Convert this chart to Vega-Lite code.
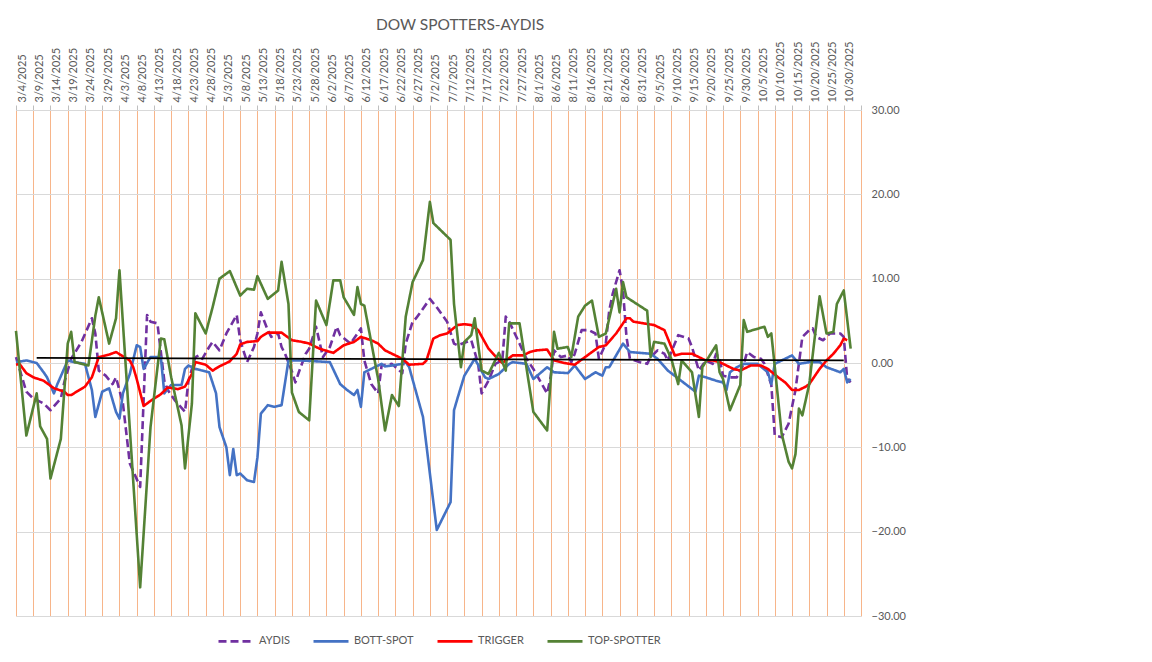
{
"$schema": "https://vega.github.io/schema/vega-lite/v6.json",
"width": 845, "height": 506,
"autosize": {"type": "none"},
"padding": {"left": 16, "top": 110, "right": 291, "bottom": 46},
"title": {"text": "DOW SPOTTERS-AYDIS", "fontSize": 15.5, "fontWeight": "normal", "color": "#595959", "offset": 8, "anchor": "middle", "frame": "bounds"},
"config": {"font": "Lato", "view": {"stroke": null}, "legend": {"layout": {"bottom": {"anchor": "middle", "bounds": "full"}}}},
"encoding": {
  "x": {"field": "date", "type": "temporal",
    "scale": {"type": "utc", "domain": [{"year": 2025, "month": 3, "date": 4, "utc": true}, {"year": 2025, "month": 11, "date": 4, "utc": true}]},
    "axis": {"orient": "top", "title": null, "format": "%-m/%-d/%Y", "labelExpr": "utcmonth(datum.value) == 10 ? '' : datum.label",
      "labelAngle": -90, "labelAlign": "left", "labelBaseline": "top", "labelPadding": 3, "labelOverlap": false, "labelFlush": false, "labelBound": false,
      "labelFontSize": 11, "labelColor": "#595959", "grid": true, "gridColor": "#F7B58A", "gridWidth": 1,
      "domain": true, "domainColor": "#D9D9D9", "ticks": true, "tickSize": 5, "tickColor": "#BFBFBF",
      "values": [
        {"year":2025,"month":3,"date":4,"utc":true},{"year":2025,"month":3,"date":9,"utc":true},{"year":2025,"month":3,"date":14,"utc":true},{"year":2025,"month":3,"date":19,"utc":true},{"year":2025,"month":3,"date":24,"utc":true},{"year":2025,"month":3,"date":29,"utc":true},
        {"year":2025,"month":4,"date":3,"utc":true},{"year":2025,"month":4,"date":8,"utc":true},{"year":2025,"month":4,"date":13,"utc":true},{"year":2025,"month":4,"date":18,"utc":true},{"year":2025,"month":4,"date":23,"utc":true},{"year":2025,"month":4,"date":28,"utc":true},
        {"year":2025,"month":5,"date":3,"utc":true},{"year":2025,"month":5,"date":8,"utc":true},{"year":2025,"month":5,"date":13,"utc":true},{"year":2025,"month":5,"date":18,"utc":true},{"year":2025,"month":5,"date":23,"utc":true},{"year":2025,"month":5,"date":28,"utc":true},
        {"year":2025,"month":6,"date":2,"utc":true},{"year":2025,"month":6,"date":7,"utc":true},{"year":2025,"month":6,"date":12,"utc":true},{"year":2025,"month":6,"date":17,"utc":true},{"year":2025,"month":6,"date":22,"utc":true},{"year":2025,"month":6,"date":27,"utc":true},
        {"year":2025,"month":7,"date":2,"utc":true},{"year":2025,"month":7,"date":7,"utc":true},{"year":2025,"month":7,"date":12,"utc":true},{"year":2025,"month":7,"date":17,"utc":true},{"year":2025,"month":7,"date":22,"utc":true},{"year":2025,"month":7,"date":27,"utc":true},
        {"year":2025,"month":8,"date":1,"utc":true},{"year":2025,"month":8,"date":6,"utc":true},{"year":2025,"month":8,"date":11,"utc":true},{"year":2025,"month":8,"date":16,"utc":true},{"year":2025,"month":8,"date":21,"utc":true},{"year":2025,"month":8,"date":26,"utc":true},{"year":2025,"month":8,"date":31,"utc":true},
        {"year":2025,"month":9,"date":5,"utc":true},{"year":2025,"month":9,"date":10,"utc":true},{"year":2025,"month":9,"date":15,"utc":true},{"year":2025,"month":9,"date":20,"utc":true},{"year":2025,"month":9,"date":25,"utc":true},{"year":2025,"month":9,"date":30,"utc":true},
        {"year":2025,"month":10,"date":5,"utc":true},{"year":2025,"month":10,"date":10,"utc":true},{"year":2025,"month":10,"date":15,"utc":true},{"year":2025,"month":10,"date":20,"utc":true},{"year":2025,"month":10,"date":25,"utc":true},{"year":2025,"month":10,"date":30,"utc":true},
        {"year":2025,"month":11,"date":4,"utc":true}
      ]}},
  "y": {"field": "value", "type": "quantitative",
    "scale": {"domain": [-30, 30], "nice": false, "zero": false},
    "axis": {"orient": "right", "title": null, "values": [-30,-20,-10,0,10,20,30], "format": ".2f", "grid": true, "gridColor": "#D9D9D9", "gridWidth": 1,
      "domain": false, "ticks": false, "labelPadding": 10, "labelFontSize": 11, "labelColor": "#595959"}}
},
"layer": [
{
"data": {"values": [
{"date":"2025-03-04","series":"AYDIS","value":0.7},{"date":"2025-03-07","series":"AYDIS","value":-3.4},{"date":"2025-03-09","series":"AYDIS","value":-4.2},{"date":"2025-03-12","series":"AYDIS","value":-4.8},{"date":"2025-03-14","series":"AYDIS","value":-5.6},{"date":"2025-03-17","series":"AYDIS","value":-4.2},{"date":"2025-03-18","series":"AYDIS","value":-2.3},{"date":"2025-03-20","series":"AYDIS","value":0.5},{"date":"2025-03-23","series":"AYDIS","value":2.5},{"date":"2025-03-26","series":"AYDIS","value":5.3},{"date":"2025-03-27","series":"AYDIS","value":3.5},{"date":"2025-03-28","series":"AYDIS","value":-0.9},{"date":"2025-03-30","series":"AYDIS","value":-1.5},
{"date":"2025-04-01","series":"AYDIS","value":-2.5},{"date":"2025-04-02","series":"AYDIS","value":-1.7},{"date":"2025-04-04","series":"AYDIS","value":-4.8},{"date":"2025-04-06","series":"AYDIS","value":-11.9},{"date":"2025-04-09","series":"AYDIS","value":-14.7},{"date":"2025-04-10","series":"AYDIS","value":-4.4},{"date":"2025-04-11","series":"AYDIS","value":5.7},{"date":"2025-04-12","series":"AYDIS","value":4.9},{"date":"2025-04-14","series":"AYDIS","value":4.7},{"date":"2025-04-16","series":"AYDIS","value":-2.1},{"date":"2025-04-17","series":"AYDIS","value":-3.2},{"date":"2025-04-19","series":"AYDIS","value":-4.4},{"date":"2025-04-22","series":"AYDIS","value":-5.8},{"date":"2025-04-23","series":"AYDIS","value":-2.1},{"date":"2025-04-25","series":"AYDIS","value":0.7},{"date":"2025-04-26","series":"AYDIS","value":0.9},{"date":"2025-04-27","series":"AYDIS","value":0.5},{"date":"2025-04-29","series":"AYDIS","value":1.9},{"date":"2025-04-30","series":"AYDIS","value":2.5},
{"date":"2025-05-02","series":"AYDIS","value":1.5},{"date":"2025-05-04","series":"AYDIS","value":3.5},{"date":"2025-05-07","series":"AYDIS","value":5.7},{"date":"2025-05-08","series":"AYDIS","value":2.7},{"date":"2025-05-10","series":"AYDIS","value":0.1},{"date":"2025-05-12","series":"AYDIS","value":1.9},{"date":"2025-05-13","series":"AYDIS","value":3.5},{"date":"2025-05-14","series":"AYDIS","value":6.0},{"date":"2025-05-16","series":"AYDIS","value":3.9},{"date":"2025-05-17","series":"AYDIS","value":3.1},{"date":"2025-05-19","series":"AYDIS","value":3.5},{"date":"2025-05-20","series":"AYDIS","value":1.9},{"date":"2025-05-21","series":"AYDIS","value":1.1},{"date":"2025-05-23","series":"AYDIS","value":-1.0},{"date":"2025-05-24","series":"AYDIS","value":-2.3},{"date":"2025-05-25","series":"AYDIS","value":-1.1},{"date":"2025-05-27","series":"AYDIS","value":1.1},{"date":"2025-05-28","series":"AYDIS","value":1.7},{"date":"2025-05-30","series":"AYDIS","value":4.3},{"date":"2025-05-31","series":"AYDIS","value":2.5},
{"date":"2025-06-01","series":"AYDIS","value":0.7},{"date":"2025-06-03","series":"AYDIS","value":1.9},{"date":"2025-06-05","series":"AYDIS","value":4.3},{"date":"2025-06-06","series":"AYDIS","value":3.3},{"date":"2025-06-09","series":"AYDIS","value":2.3},{"date":"2025-06-11","series":"AYDIS","value":3.5},{"date":"2025-06-12","series":"AYDIS","value":4.1},{"date":"2025-06-13","series":"AYDIS","value":0.3},{"date":"2025-06-15","series":"AYDIS","value":-2.5},{"date":"2025-06-17","series":"AYDIS","value":-3.6},{"date":"2025-06-18","series":"AYDIS","value":-0.3},{"date":"2025-06-21","series":"AYDIS","value":-0.1},{"date":"2025-06-24","series":"AYDIS","value":-1.2},{"date":"2025-06-25","series":"AYDIS","value":2.3},{"date":"2025-06-27","series":"AYDIS","value":4.9},{"date":"2025-06-28","series":"AYDIS","value":5.3},
{"date":"2025-07-02","series":"AYDIS","value":7.6},{"date":"2025-07-04","series":"AYDIS","value":6.6},{"date":"2025-07-07","series":"AYDIS","value":4.9},{"date":"2025-07-09","series":"AYDIS","value":2.3},{"date":"2025-07-10","series":"AYDIS","value":2.1},{"date":"2025-07-14","series":"AYDIS","value":2.7},{"date":"2025-07-16","series":"AYDIS","value":-0.1},{"date":"2025-07-17","series":"AYDIS","value":-3.6},{"date":"2025-07-19","series":"AYDIS","value":-2.1},{"date":"2025-07-21","series":"AYDIS","value":-0.1},{"date":"2025-07-23","series":"AYDIS","value":0.3},{"date":"2025-07-24","series":"AYDIS","value":5.5},{"date":"2025-07-25","series":"AYDIS","value":4.9},{"date":"2025-07-28","series":"AYDIS","value":2.3},{"date":"2025-07-30","series":"AYDIS","value":0.5},
{"date":"2025-08-01","series":"AYDIS","value":-0.7},{"date":"2025-08-05","series":"AYDIS","value":-3.6},{"date":"2025-08-06","series":"AYDIS","value":-1.7},{"date":"2025-08-07","series":"AYDIS","value":1.5},{"date":"2025-08-09","series":"AYDIS","value":0.7},{"date":"2025-08-11","series":"AYDIS","value":0.9},{"date":"2025-08-12","series":"AYDIS","value":0.1},{"date":"2025-08-13","series":"AYDIS","value":1.1},{"date":"2025-08-15","series":"AYDIS","value":3.9},{"date":"2025-08-17","series":"AYDIS","value":3.9},{"date":"2025-08-19","series":"AYDIS","value":3.5},{"date":"2025-08-20","series":"AYDIS","value":0.5},{"date":"2025-08-22","series":"AYDIS","value":2.3},{"date":"2025-08-23","series":"AYDIS","value":6.2},{"date":"2025-08-24","series":"AYDIS","value":8.2},{"date":"2025-08-26","series":"AYDIS","value":11.0},{"date":"2025-08-27","series":"AYDIS","value":8.6},{"date":"2025-08-28","series":"AYDIS","value":3.1},{"date":"2025-08-29","series":"AYDIS","value":0.5},
{"date":"2025-09-01","series":"AYDIS","value":0.1},{"date":"2025-09-03","series":"AYDIS","value":-0.1},{"date":"2025-09-04","series":"AYDIS","value":0.7},{"date":"2025-09-06","series":"AYDIS","value":1.5},{"date":"2025-09-08","series":"AYDIS","value":1.1},{"date":"2025-09-09","series":"AYDIS","value":0.3},{"date":"2025-09-12","series":"AYDIS","value":3.3},{"date":"2025-09-15","series":"AYDIS","value":2.9},{"date":"2025-09-16","series":"AYDIS","value":1.9},{"date":"2025-09-18","series":"AYDIS","value":-0.9},{"date":"2025-09-20","series":"AYDIS","value":0.3},{"date":"2025-09-22","series":"AYDIS","value":-0.1},{"date":"2025-09-23","series":"AYDIS","value":1.1},{"date":"2025-09-24","series":"AYDIS","value":0.5},{"date":"2025-09-25","series":"AYDIS","value":-1.5},{"date":"2025-09-27","series":"AYDIS","value":-1.7},{"date":"2025-09-29","series":"AYDIS","value":-1.7},
{"date":"2025-10-01","series":"AYDIS","value":-0.1},{"date":"2025-10-02","series":"AYDIS","value":1.3},{"date":"2025-10-04","series":"AYDIS","value":0.7},{"date":"2025-10-06","series":"AYDIS","value":0.5},{"date":"2025-10-07","series":"AYDIS","value":-0.1},{"date":"2025-10-09","series":"AYDIS","value":-2.6},{"date":"2025-10-10","series":"AYDIS","value":-8.6},{"date":"2025-10-12","series":"AYDIS","value":-8.8},{"date":"2025-10-14","series":"AYDIS","value":-7.2},{"date":"2025-10-16","series":"AYDIS","value":-3.2},{"date":"2025-10-18","series":"AYDIS","value":3.1},{"date":"2025-10-20","series":"AYDIS","value":3.9},{"date":"2025-10-21","series":"AYDIS","value":4.1},{"date":"2025-10-22","series":"AYDIS","value":3.1},{"date":"2025-10-24","series":"AYDIS","value":2.7},{"date":"2025-10-25","series":"AYDIS","value":3.1},{"date":"2025-10-26","series":"AYDIS","value":3.5},{"date":"2025-10-29","series":"AYDIS","value":3.5},{"date":"2025-10-30","series":"AYDIS","value":3.1},{"date":"2025-10-31","series":"AYDIS","value":-1.9},{"date":"2025-11-01","series":"AYDIS","value":-2.3},

{"date":"2025-03-04","series":"BOTT-SPOT","value":0.1},{"date":"2025-03-07","series":"BOTT-SPOT","value":0.3},{"date":"2025-03-10","series":"BOTT-SPOT","value":0.0},{"date":"2025-03-12","series":"BOTT-SPOT","value":-1.1},{"date":"2025-03-13","series":"BOTT-SPOT","value":-1.7},{"date":"2025-03-15","series":"BOTT-SPOT","value":-3.6},{"date":"2025-03-16","series":"BOTT-SPOT","value":-2.5},{"date":"2025-03-19","series":"BOTT-SPOT","value":0.3},{"date":"2025-03-21","series":"BOTT-SPOT","value":0.1},{"date":"2025-03-24","series":"BOTT-SPOT","value":-0.1},{"date":"2025-03-26","series":"BOTT-SPOT","value":-3.2},{"date":"2025-03-27","series":"BOTT-SPOT","value":-6.4},{"date":"2025-03-29","series":"BOTT-SPOT","value":-3.4},{"date":"2025-03-31","series":"BOTT-SPOT","value":-3.0},
{"date":"2025-04-02","series":"BOTT-SPOT","value":-5.8},{"date":"2025-04-03","series":"BOTT-SPOT","value":-6.6},{"date":"2025-04-04","series":"BOTT-SPOT","value":-3.6},{"date":"2025-04-06","series":"BOTT-SPOT","value":-1.3},{"date":"2025-04-08","series":"BOTT-SPOT","value":2.1},{"date":"2025-04-09","series":"BOTT-SPOT","value":1.9},{"date":"2025-04-10","series":"BOTT-SPOT","value":-0.7},{"date":"2025-04-12","series":"BOTT-SPOT","value":0.7},{"date":"2025-04-15","series":"BOTT-SPOT","value":0.7},{"date":"2025-04-16","series":"BOTT-SPOT","value":-3.6},{"date":"2025-04-18","series":"BOTT-SPOT","value":-2.6},{"date":"2025-04-21","series":"BOTT-SPOT","value":-2.6},{"date":"2025-04-22","series":"BOTT-SPOT","value":-0.7},{"date":"2025-04-23","series":"BOTT-SPOT","value":-0.3},{"date":"2025-04-25","series":"BOTT-SPOT","value":-0.7},{"date":"2025-04-29","series":"BOTT-SPOT","value":-1.1},
{"date":"2025-05-01","series":"BOTT-SPOT","value":-3.6},{"date":"2025-05-02","series":"BOTT-SPOT","value":-7.6},{"date":"2025-05-04","series":"BOTT-SPOT","value":-10.0},{"date":"2025-05-05","series":"BOTT-SPOT","value":-13.3},{"date":"2025-05-06","series":"BOTT-SPOT","value":-10.2},{"date":"2025-05-07","series":"BOTT-SPOT","value":-13.3},{"date":"2025-05-08","series":"BOTT-SPOT","value":-13.1},{"date":"2025-05-10","series":"BOTT-SPOT","value":-13.9},{"date":"2025-05-12","series":"BOTT-SPOT","value":-14.1},{"date":"2025-05-13","series":"BOTT-SPOT","value":-11.2},{"date":"2025-05-14","series":"BOTT-SPOT","value":-6.0},{"date":"2025-05-16","series":"BOTT-SPOT","value":-5.0},{"date":"2025-05-18","series":"BOTT-SPOT","value":-5.2},{"date":"2025-05-20","series":"BOTT-SPOT","value":-5.0},{"date":"2025-05-22","series":"BOTT-SPOT","value":0.3},{"date":"2025-05-26","series":"BOTT-SPOT","value":0.3},
{"date":"2025-06-03","series":"BOTT-SPOT","value":0.1},{"date":"2025-06-06","series":"BOTT-SPOT","value":-2.5},{"date":"2025-06-08","series":"BOTT-SPOT","value":-3.2},{"date":"2025-06-10","series":"BOTT-SPOT","value":-3.8},{"date":"2025-06-11","series":"BOTT-SPOT","value":-3.2},{"date":"2025-06-12","series":"BOTT-SPOT","value":-5.2},{"date":"2025-06-13","series":"BOTT-SPOT","value":-1.1},{"date":"2025-06-15","series":"BOTT-SPOT","value":-0.7},{"date":"2025-06-18","series":"BOTT-SPOT","value":-0.1},{"date":"2025-06-19","series":"BOTT-SPOT","value":-0.4},{"date":"2025-06-21","series":"BOTT-SPOT","value":-0.3},{"date":"2025-06-24","series":"BOTT-SPOT","value":-0.1},{"date":"2025-06-25","series":"BOTT-SPOT","value":0.1},{"date":"2025-06-26","series":"BOTT-SPOT","value":-0.5},{"date":"2025-06-30","series":"BOTT-SPOT","value":-6.4},
{"date":"2025-07-04","series":"BOTT-SPOT","value":-19.8},{"date":"2025-07-08","series":"BOTT-SPOT","value":-16.5},{"date":"2025-07-09","series":"BOTT-SPOT","value":-5.6},{"date":"2025-07-10","series":"BOTT-SPOT","value":-4.2},{"date":"2025-07-12","series":"BOTT-SPOT","value":-1.5},{"date":"2025-07-15","series":"BOTT-SPOT","value":0.5},{"date":"2025-07-18","series":"BOTT-SPOT","value":-1.7},{"date":"2025-07-19","series":"BOTT-SPOT","value":-1.9},{"date":"2025-07-22","series":"BOTT-SPOT","value":-1.3},{"date":"2025-07-25","series":"BOTT-SPOT","value":-0.1},{"date":"2025-07-26","series":"BOTT-SPOT","value":0.1},{"date":"2025-07-30","series":"BOTT-SPOT","value":-0.1},
{"date":"2025-08-01","series":"BOTT-SPOT","value":-1.9},{"date":"2025-08-05","series":"BOTT-SPOT","value":-0.5},{"date":"2025-08-07","series":"BOTT-SPOT","value":-1.1},{"date":"2025-08-11","series":"BOTT-SPOT","value":-1.2},{"date":"2025-08-13","series":"BOTT-SPOT","value":-0.3},{"date":"2025-08-16","series":"BOTT-SPOT","value":-1.9},{"date":"2025-08-19","series":"BOTT-SPOT","value":-1.1},{"date":"2025-08-21","series":"BOTT-SPOT","value":-1.5},{"date":"2025-08-22","series":"BOTT-SPOT","value":-0.5},{"date":"2025-08-23","series":"BOTT-SPOT","value":-0.5},{"date":"2025-08-27","series":"BOTT-SPOT","value":2.3},{"date":"2025-08-29","series":"BOTT-SPOT","value":1.3},
{"date":"2025-09-04","series":"BOTT-SPOT","value":1.1},{"date":"2025-09-06","series":"BOTT-SPOT","value":0.5},{"date":"2025-09-09","series":"BOTT-SPOT","value":-0.9},{"date":"2025-09-17","series":"BOTT-SPOT","value":-3.4},{"date":"2025-09-18","series":"BOTT-SPOT","value":-1.5},{"date":"2025-09-20","series":"BOTT-SPOT","value":-1.7},{"date":"2025-09-23","series":"BOTT-SPOT","value":-2.1},{"date":"2025-09-25","series":"BOTT-SPOT","value":-2.3},{"date":"2025-09-26","series":"BOTT-SPOT","value":-3.2},{"date":"2025-09-27","series":"BOTT-SPOT","value":-1.1},{"date":"2025-09-29","series":"BOTT-SPOT","value":-0.5},
{"date":"2025-10-01","series":"BOTT-SPOT","value":-0.1},{"date":"2025-10-05","series":"BOTT-SPOT","value":-0.1},{"date":"2025-10-08","series":"BOTT-SPOT","value":-1.1},{"date":"2025-10-09","series":"BOTT-SPOT","value":-2.5},{"date":"2025-10-10","series":"BOTT-SPOT","value":-0.1},{"date":"2025-10-15","series":"BOTT-SPOT","value":0.9},{"date":"2025-10-17","series":"BOTT-SPOT","value":-0.1},{"date":"2025-10-20","series":"BOTT-SPOT","value":0.1},{"date":"2025-10-23","series":"BOTT-SPOT","value":0.1},{"date":"2025-10-25","series":"BOTT-SPOT","value":-0.5},{"date":"2025-10-29","series":"BOTT-SPOT","value":-1.1},{"date":"2025-10-30","series":"BOTT-SPOT","value":-0.7},{"date":"2025-10-31","series":"BOTT-SPOT","value":-2.3},{"date":"2025-11-01","series":"BOTT-SPOT","value":-1.9},

{"date":"2025-03-04","series":"TRIGGER","value":-0.2},{"date":"2025-03-05","series":"TRIGGER","value":-0.1},{"date":"2025-03-07","series":"TRIGGER","value":-1.2},{"date":"2025-03-09","series":"TRIGGER","value":-1.7},{"date":"2025-03-12","series":"TRIGGER","value":-2.1},{"date":"2025-03-15","series":"TRIGGER","value":-3.0},{"date":"2025-03-18","series":"TRIGGER","value":-3.4},{"date":"2025-03-19","series":"TRIGGER","value":-3.8},{"date":"2025-03-20","series":"TRIGGER","value":-3.8},{"date":"2025-03-22","series":"TRIGGER","value":-3.3},{"date":"2025-03-24","series":"TRIGGER","value":-2.8},{"date":"2025-03-26","series":"TRIGGER","value":-1.7},{"date":"2025-03-28","series":"TRIGGER","value":0.7},{"date":"2025-03-31","series":"TRIGGER","value":1.0},
{"date":"2025-04-02","series":"TRIGGER","value":1.3},{"date":"2025-04-04","series":"TRIGGER","value":0.8},{"date":"2025-04-06","series":"TRIGGER","value":0.3},{"date":"2025-04-07","series":"TRIGGER","value":-0.5},{"date":"2025-04-08","series":"TRIGGER","value":-1.9},{"date":"2025-04-10","series":"TRIGGER","value":-5.1},{"date":"2025-04-12","series":"TRIGGER","value":-4.5},{"date":"2025-04-15","series":"TRIGGER","value":-3.7},{"date":"2025-04-17","series":"TRIGGER","value":-2.9},{"date":"2025-04-20","series":"TRIGGER","value":-3.1},{"date":"2025-04-22","series":"TRIGGER","value":-2.8},{"date":"2025-04-24","series":"TRIGGER","value":-1.3},{"date":"2025-04-25","series":"TRIGGER","value":0.1},{"date":"2025-04-28","series":"TRIGGER","value":-0.2},{"date":"2025-04-30","series":"TRIGGER","value":-0.9},
{"date":"2025-05-02","series":"TRIGGER","value":-0.4},{"date":"2025-05-05","series":"TRIGGER","value":0.2},{"date":"2025-05-07","series":"TRIGGER","value":1.1},{"date":"2025-05-08","series":"TRIGGER","value":2.2},{"date":"2025-05-10","series":"TRIGGER","value":2.5},{"date":"2025-05-13","series":"TRIGGER","value":2.6},{"date":"2025-05-14","series":"TRIGGER","value":3.1},{"date":"2025-05-16","series":"TRIGGER","value":3.6},{"date":"2025-05-20","series":"TRIGGER","value":3.6},{"date":"2025-05-23","series":"TRIGGER","value":2.7},{"date":"2025-05-26","series":"TRIGGER","value":2.5},{"date":"2025-05-28","series":"TRIGGER","value":2.3},{"date":"2025-05-31","series":"TRIGGER","value":1.7},
{"date":"2025-06-04","series":"TRIGGER","value":1.2},{"date":"2025-06-07","series":"TRIGGER","value":2.1},{"date":"2025-06-10","series":"TRIGGER","value":2.5},{"date":"2025-06-12","series":"TRIGGER","value":3.1},{"date":"2025-06-15","series":"TRIGGER","value":2.7},{"date":"2025-06-17","series":"TRIGGER","value":2.3},{"date":"2025-06-19","series":"TRIGGER","value":1.5},{"date":"2025-06-21","series":"TRIGGER","value":1.1},{"date":"2025-06-24","series":"TRIGGER","value":0.5},{"date":"2025-06-26","series":"TRIGGER","value":-0.2},{"date":"2025-06-30","series":"TRIGGER","value":-0.1},
{"date":"2025-07-01","series":"TRIGGER","value":0.3},{"date":"2025-07-03","series":"TRIGGER","value":2.9},{"date":"2025-07-05","series":"TRIGGER","value":3.3},{"date":"2025-07-07","series":"TRIGGER","value":3.5},{"date":"2025-07-10","series":"TRIGGER","value":4.5},{"date":"2025-07-12","series":"TRIGGER","value":4.6},{"date":"2025-07-14","series":"TRIGGER","value":4.5},{"date":"2025-07-16","series":"TRIGGER","value":3.9},{"date":"2025-07-19","series":"TRIGGER","value":1.7},{"date":"2025-07-21","series":"TRIGGER","value":0.8},{"date":"2025-07-23","series":"TRIGGER","value":0.0},{"date":"2025-07-26","series":"TRIGGER","value":0.9},{"date":"2025-07-29","series":"TRIGGER","value":0.9},{"date":"2025-07-31","series":"TRIGGER","value":1.3},
{"date":"2025-08-02","series":"TRIGGER","value":1.5},{"date":"2025-08-05","series":"TRIGGER","value":1.6},{"date":"2025-08-07","series":"TRIGGER","value":0.3},{"date":"2025-08-10","series":"TRIGGER","value":0.0},{"date":"2025-08-13","series":"TRIGGER","value":-0.2},{"date":"2025-08-16","series":"TRIGGER","value":0.7},{"date":"2025-08-18","series":"TRIGGER","value":1.3},{"date":"2025-08-20","series":"TRIGGER","value":1.9},{"date":"2025-08-22","series":"TRIGGER","value":2.1},{"date":"2025-08-25","series":"TRIGGER","value":3.5},{"date":"2025-08-28","series":"TRIGGER","value":5.3},{"date":"2025-08-29","series":"TRIGGER","value":5.3},{"date":"2025-08-30","series":"TRIGGER","value":4.9},
{"date":"2025-09-02","series":"TRIGGER","value":4.7},{"date":"2025-09-05","series":"TRIGGER","value":4.5},{"date":"2025-09-08","series":"TRIGGER","value":3.9},{"date":"2025-09-11","series":"TRIGGER","value":0.9},{"date":"2025-09-13","series":"TRIGGER","value":1.1},{"date":"2025-09-16","series":"TRIGGER","value":1.1},{"date":"2025-09-20","series":"TRIGGER","value":0.3},{"date":"2025-09-22","series":"TRIGGER","value":0.3},{"date":"2025-09-24","series":"TRIGGER","value":0.1},{"date":"2025-09-26","series":"TRIGGER","value":-0.3},{"date":"2025-09-28","series":"TRIGGER","value":-0.7},{"date":"2025-09-30","series":"TRIGGER","value":-0.9},
{"date":"2025-10-03","series":"TRIGGER","value":-0.3},{"date":"2025-10-06","series":"TRIGGER","value":-0.3},{"date":"2025-10-08","series":"TRIGGER","value":-0.7},{"date":"2025-10-11","series":"TRIGGER","value":-1.7},{"date":"2025-10-13","series":"TRIGGER","value":-2.3},{"date":"2025-10-15","series":"TRIGGER","value":-3.2},{"date":"2025-10-17","series":"TRIGGER","value":-3.2},{"date":"2025-10-19","series":"TRIGGER","value":-2.8},{"date":"2025-10-20","series":"TRIGGER","value":-2.5},{"date":"2025-10-23","series":"TRIGGER","value":-0.7},{"date":"2025-10-25","series":"TRIGGER","value":0.3},{"date":"2025-10-27","series":"TRIGGER","value":1.1},{"date":"2025-10-29","series":"TRIGGER","value":2.1},{"date":"2025-10-30","series":"TRIGGER","value":2.9},{"date":"2025-10-31","series":"TRIGGER","value":2.7},

{"date":"2025-03-04","series":"TOP-SPOTTER","value":3.8},{"date":"2025-03-07","series":"TOP-SPOTTER","value":-8.6},{"date":"2025-03-10","series":"TOP-SPOTTER","value":-3.6},{"date":"2025-03-11","series":"TOP-SPOTTER","value":-7.5},{"date":"2025-03-13","series":"TOP-SPOTTER","value":-9.0},{"date":"2025-03-14","series":"TOP-SPOTTER","value":-13.7},{"date":"2025-03-17","series":"TOP-SPOTTER","value":-9.0},{"date":"2025-03-19","series":"TOP-SPOTTER","value":2.3},{"date":"2025-03-20","series":"TOP-SPOTTER","value":3.7},{"date":"2025-03-21","series":"TOP-SPOTTER","value":0.1},{"date":"2025-03-25","series":"TOP-SPOTTER","value":-0.3},{"date":"2025-03-27","series":"TOP-SPOTTER","value":5.6},{"date":"2025-03-28","series":"TOP-SPOTTER","value":7.8},{"date":"2025-03-31","series":"TOP-SPOTTER","value":2.3},
{"date":"2025-04-02","series":"TOP-SPOTTER","value":5.3},{"date":"2025-04-03","series":"TOP-SPOTTER","value":11.0},{"date":"2025-04-09","series":"TOP-SPOTTER","value":-26.6},{"date":"2025-04-12","series":"TOP-SPOTTER","value":-7.6},{"date":"2025-04-15","series":"TOP-SPOTTER","value":2.9},{"date":"2025-04-16","series":"TOP-SPOTTER","value":2.8},{"date":"2025-04-18","series":"TOP-SPOTTER","value":-1.7},{"date":"2025-04-21","series":"TOP-SPOTTER","value":-7.4},{"date":"2025-04-22","series":"TOP-SPOTTER","value":-12.5},{"date":"2025-04-24","series":"TOP-SPOTTER","value":-4.8},{"date":"2025-04-25","series":"TOP-SPOTTER","value":5.9},{"date":"2025-04-28","series":"TOP-SPOTTER","value":3.5},{"date":"2025-04-30","series":"TOP-SPOTTER","value":6.6},
{"date":"2025-05-02","series":"TOP-SPOTTER","value":10.0},{"date":"2025-05-05","series":"TOP-SPOTTER","value":10.9},{"date":"2025-05-08","series":"TOP-SPOTTER","value":8.0},{"date":"2025-05-10","series":"TOP-SPOTTER","value":8.8},{"date":"2025-05-12","series":"TOP-SPOTTER","value":8.7},{"date":"2025-05-13","series":"TOP-SPOTTER","value":10.3},{"date":"2025-05-16","series":"TOP-SPOTTER","value":7.6},{"date":"2025-05-19","series":"TOP-SPOTTER","value":8.6},{"date":"2025-05-20","series":"TOP-SPOTTER","value":12.0},{"date":"2025-05-22","series":"TOP-SPOTTER","value":7.0},{"date":"2025-05-23","series":"TOP-SPOTTER","value":-3.5},{"date":"2025-05-25","series":"TOP-SPOTTER","value":-5.8},{"date":"2025-05-28","series":"TOP-SPOTTER","value":-6.8},{"date":"2025-05-30","series":"TOP-SPOTTER","value":7.4},
{"date":"2025-06-02","series":"TOP-SPOTTER","value":4.5},{"date":"2025-06-04","series":"TOP-SPOTTER","value":9.8},{"date":"2025-06-06","series":"TOP-SPOTTER","value":9.8},{"date":"2025-06-07","series":"TOP-SPOTTER","value":7.8},{"date":"2025-06-10","series":"TOP-SPOTTER","value":5.7},{"date":"2025-06-11","series":"TOP-SPOTTER","value":9.0},{"date":"2025-06-12","series":"TOP-SPOTTER","value":7.0},{"date":"2025-06-13","series":"TOP-SPOTTER","value":6.8},{"date":"2025-06-17","series":"TOP-SPOTTER","value":-1.9},{"date":"2025-06-19","series":"TOP-SPOTTER","value":-8.0},{"date":"2025-06-21","series":"TOP-SPOTTER","value":-3.8},{"date":"2025-06-23","series":"TOP-SPOTTER","value":-5.1},{"date":"2025-06-25","series":"TOP-SPOTTER","value":5.5},{"date":"2025-06-27","series":"TOP-SPOTTER","value":9.6},{"date":"2025-06-30","series":"TOP-SPOTTER","value":12.2},
{"date":"2025-07-02","series":"TOP-SPOTTER","value":19.1},{"date":"2025-07-03","series":"TOP-SPOTTER","value":16.6},{"date":"2025-07-08","series":"TOP-SPOTTER","value":14.6},{"date":"2025-07-09","series":"TOP-SPOTTER","value":7.0},{"date":"2025-07-11","series":"TOP-SPOTTER","value":-0.5},{"date":"2025-07-12","series":"TOP-SPOTTER","value":2.5},{"date":"2025-07-14","series":"TOP-SPOTTER","value":3.3},{"date":"2025-07-15","series":"TOP-SPOTTER","value":5.3},{"date":"2025-07-17","series":"TOP-SPOTTER","value":-0.9},{"date":"2025-07-19","series":"TOP-SPOTTER","value":-1.3},{"date":"2025-07-22","series":"TOP-SPOTTER","value":1.2},{"date":"2025-07-24","series":"TOP-SPOTTER","value":-0.9},{"date":"2025-07-25","series":"TOP-SPOTTER","value":4.7},{"date":"2025-07-28","series":"TOP-SPOTTER","value":4.7},
{"date":"2025-08-01","series":"TOP-SPOTTER","value":-5.8},{"date":"2025-08-05","series":"TOP-SPOTTER","value":-8.0},{"date":"2025-08-07","series":"TOP-SPOTTER","value":3.7},{"date":"2025-08-08","series":"TOP-SPOTTER","value":1.7},{"date":"2025-08-11","series":"TOP-SPOTTER","value":1.9},{"date":"2025-08-12","series":"TOP-SPOTTER","value":0.7},{"date":"2025-08-14","series":"TOP-SPOTTER","value":5.5},{"date":"2025-08-16","series":"TOP-SPOTTER","value":6.8},{"date":"2025-08-18","series":"TOP-SPOTTER","value":7.4},{"date":"2025-08-20","series":"TOP-SPOTTER","value":3.1},{"date":"2025-08-22","series":"TOP-SPOTTER","value":3.5},{"date":"2025-08-25","series":"TOP-SPOTTER","value":8.8},{"date":"2025-08-26","series":"TOP-SPOTTER","value":6.0},{"date":"2025-08-27","series":"TOP-SPOTTER","value":9.6},{"date":"2025-08-28","series":"TOP-SPOTTER","value":7.8},
{"date":"2025-09-03","series":"TOP-SPOTTER","value":6.2},{"date":"2025-09-04","series":"TOP-SPOTTER","value":0.7},{"date":"2025-09-05","series":"TOP-SPOTTER","value":2.5},{"date":"2025-09-08","series":"TOP-SPOTTER","value":2.3},{"date":"2025-09-10","series":"TOP-SPOTTER","value":0.5},{"date":"2025-09-12","series":"TOP-SPOTTER","value":-2.5},{"date":"2025-09-13","series":"TOP-SPOTTER","value":0.3},{"date":"2025-09-16","series":"TOP-SPOTTER","value":-1.1},{"date":"2025-09-18","series":"TOP-SPOTTER","value":-6.4},{"date":"2025-09-19","series":"TOP-SPOTTER","value":-0.5},{"date":"2025-09-23","series":"TOP-SPOTTER","value":2.1},{"date":"2025-09-24","series":"TOP-SPOTTER","value":-1.1},{"date":"2025-09-25","series":"TOP-SPOTTER","value":-1.9},{"date":"2025-09-27","series":"TOP-SPOTTER","value":-5.6},{"date":"2025-09-30","series":"TOP-SPOTTER","value":-2.6},
{"date":"2025-10-01","series":"TOP-SPOTTER","value":5.1},{"date":"2025-10-02","series":"TOP-SPOTTER","value":3.7},{"date":"2025-10-07","series":"TOP-SPOTTER","value":4.3},{"date":"2025-10-08","series":"TOP-SPOTTER","value":3.1},{"date":"2025-10-09","series":"TOP-SPOTTER","value":3.5},{"date":"2025-10-12","series":"TOP-SPOTTER","value":-8.4},{"date":"2025-10-14","series":"TOP-SPOTTER","value":-11.7},{"date":"2025-10-15","series":"TOP-SPOTTER","value":-12.5},{"date":"2025-10-16","series":"TOP-SPOTTER","value":-10.8},{"date":"2025-10-17","series":"TOP-SPOTTER","value":-5.4},{"date":"2025-10-18","series":"TOP-SPOTTER","value":-6.2},{"date":"2025-10-20","series":"TOP-SPOTTER","value":-2.5},{"date":"2025-10-23","series":"TOP-SPOTTER","value":7.9},{"date":"2025-10-25","series":"TOP-SPOTTER","value":3.5},{"date":"2025-10-27","series":"TOP-SPOTTER","value":3.7},{"date":"2025-10-28","series":"TOP-SPOTTER","value":7.0},{"date":"2025-10-30","series":"TOP-SPOTTER","value":8.6},{"date":"2025-11-01","series":"TOP-SPOTTER","value":1.7}
]},
"mark": {"type": "line", "strokeJoin": "round", "strokeCap": "butt"},
"encoding": {
  "color": {"field": "series", "type": "nominal",
    "scale": {"domain": ["AYDIS", "BOTT-SPOT", "TRIGGER", "TOP-SPOTTER"], "range": ["#7030A0", "#4472C4", "#FF0000", "#548235"]},
    "legend": {"orient": "bottom", "direction": "horizontal", "title": null, "symbolType": "stroke", "symbolSize": 1225, "symbolStrokeWidth": 3, "labelFontSize": 11, "labelColor": "#595959", "columnPadding": 18, "labelOffset": 4, "offset": 6}},
  "strokeDash": {"field": "series", "type": "nominal",
    "scale": {"domain": ["AYDIS", "BOTT-SPOT", "TRIGGER", "TOP-SPOTTER"], "range": [[8, 4], [1, 0], [1, 0], [1, 0]]},
    "legend": {"orient": "bottom", "direction": "horizontal", "title": null, "symbolType": "stroke", "symbolSize": 1225, "symbolStrokeWidth": 3, "labelFontSize": 11, "labelColor": "#595959", "columnPadding": 18, "labelOffset": 4, "offset": 6}},
  "strokeWidth": {"field": "series", "type": "ordinal",
    "scale": {"domain": ["AYDIS", "BOTT-SPOT", "TRIGGER", "TOP-SPOTTER"], "range": [2.6, 2.6, 3.2, 3.2]}, "legend": null}
}
},
{
"data": {"values": [{"date": "2025-03-10", "value": 0.6}, {"date": "2025-10-30", "value": 0.3}]},
"mark": {"type": "line", "color": "#000000", "strokeWidth": 1.8},
"encoding": {}
}
]
}
